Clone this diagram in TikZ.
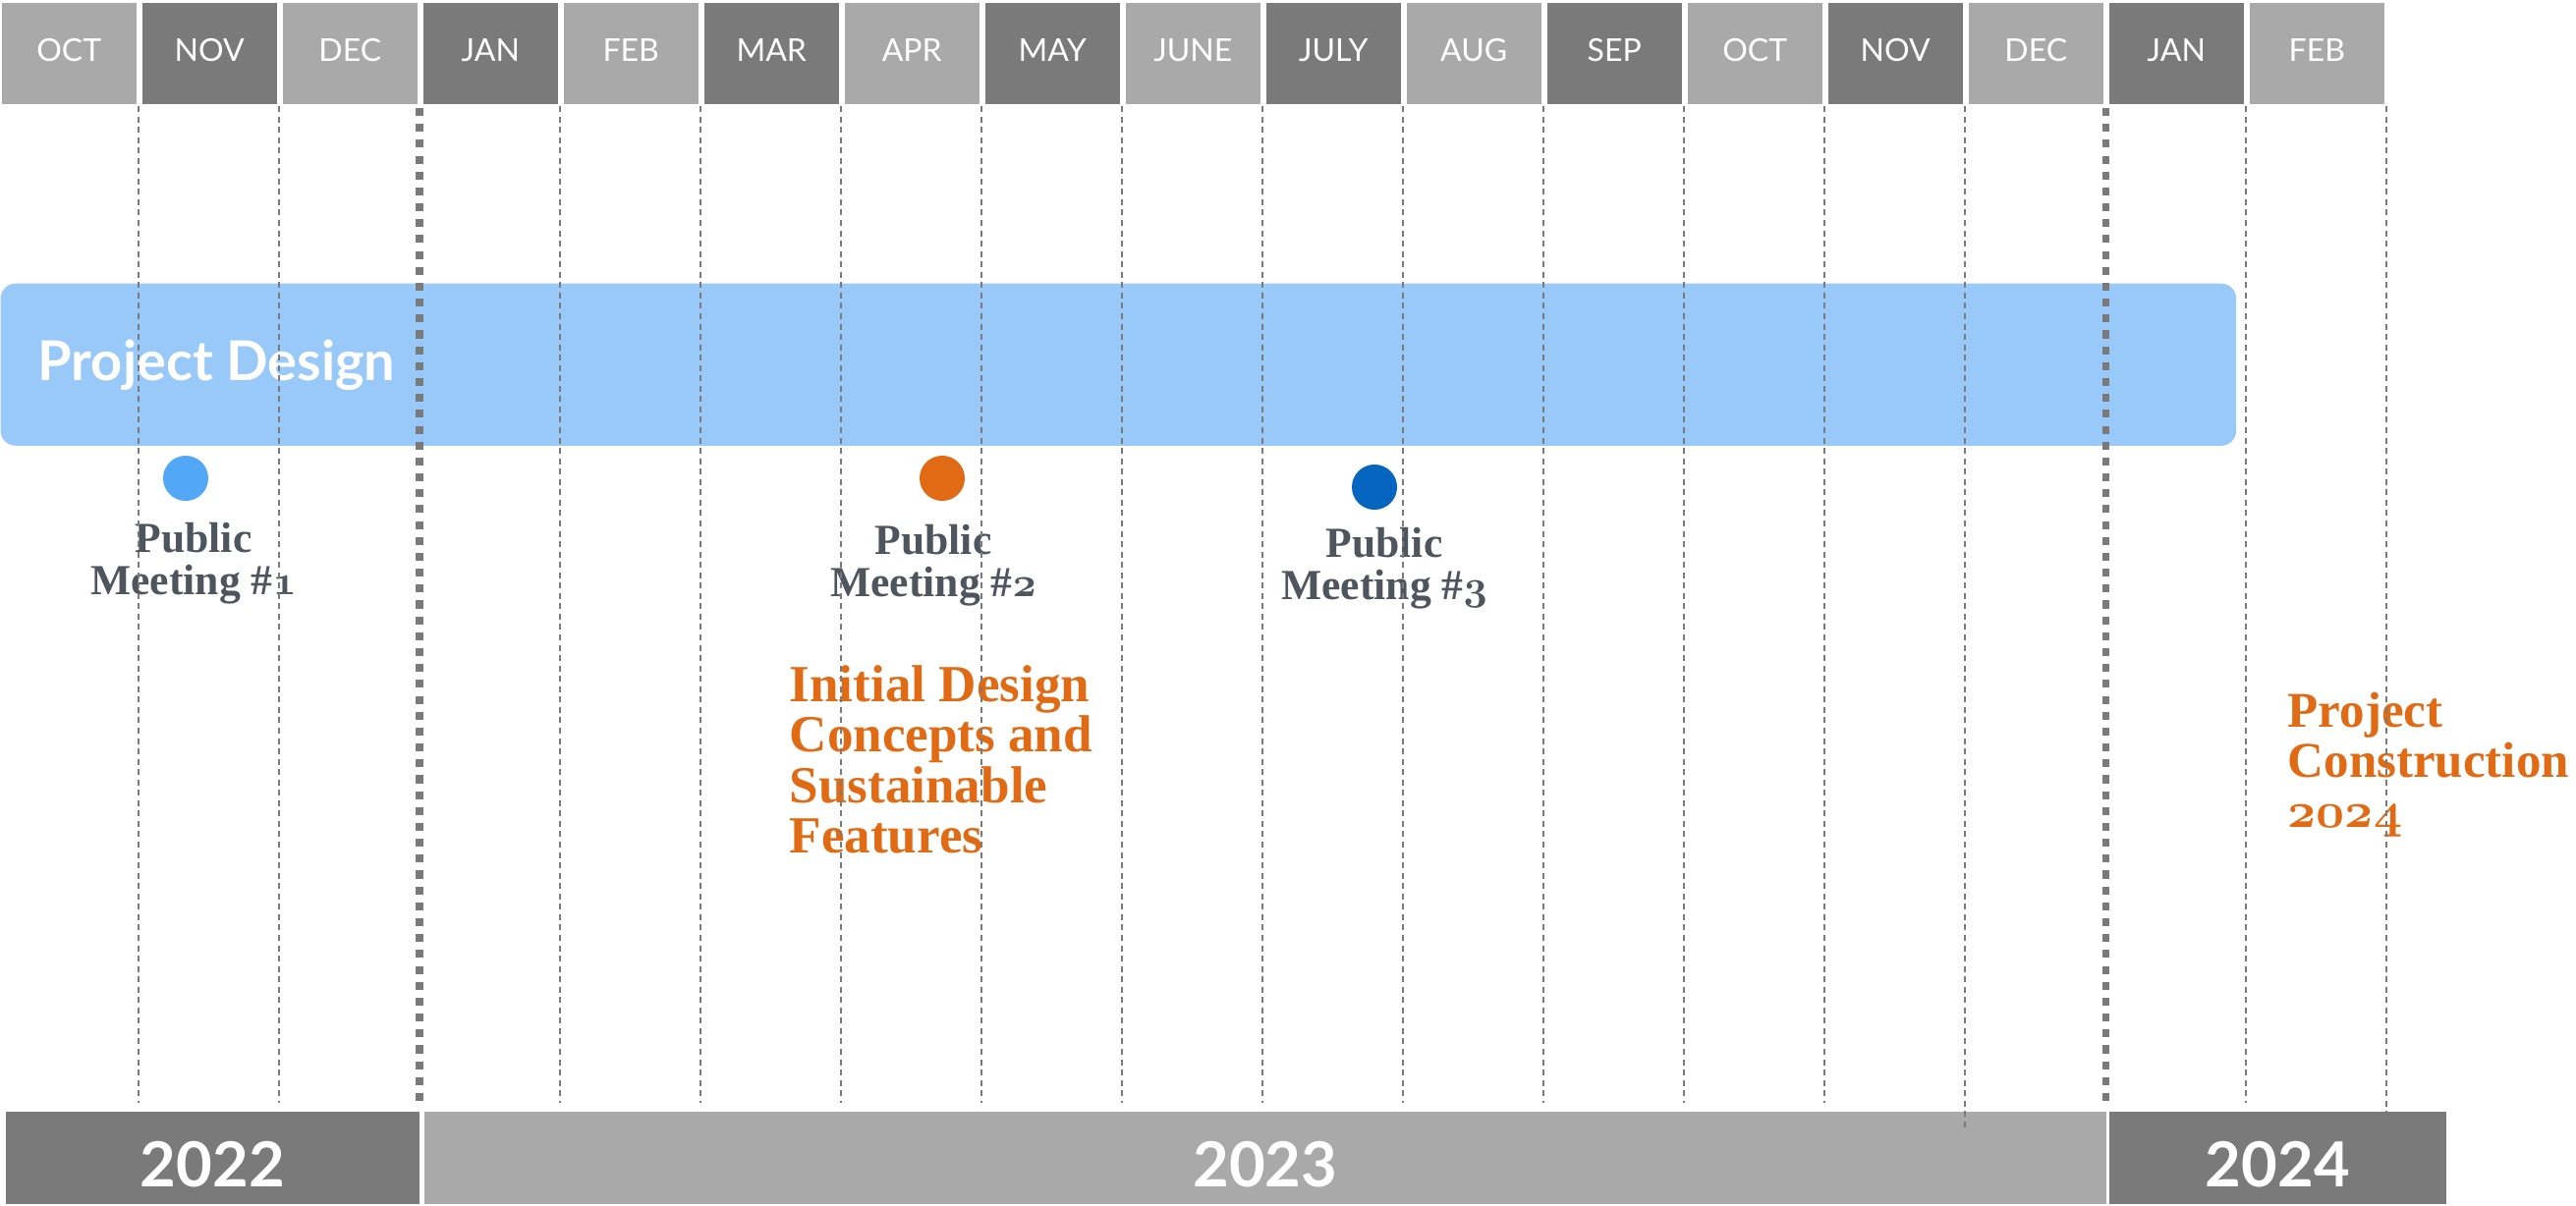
\documentclass[tikz,border=0pt]{standalone}
\usepackage{fontspec}
\setmainfont{Liberation Serif}
\newfontfamily\labelfont{Lato}
\usepackage{tikz}
\definecolor{monthlight}{HTML}{A9A9A9}
\definecolor{monthdark}{HTML}{7A7A7A}
\definecolor{designblue}{HTML}{99C9F9}
\definecolor{dotsky}{HTML}{52A8F7}
\definecolor{dotnavy}{HTML}{0565BF}
\definecolor{accent}{HTML}{E06B14}
\definecolor{meetgray}{HTML}{4F555D}
\definecolor{gridgray}{HTML}{7A7A7A}
% old style figures
\newcommand{\osnum}[1]{{\usefont{OML}{cmm}{b}{it}#1}}

\tikzset{
  monthbox/.style={anchor=north west, minimum width=1.37cm, minimum height=1.03cm,
    inner sep=0pt, text=white, font=\labelfont\fontsize{9.1}{10}\selectfont,
    text height=6.6pt, text depth=1.8pt},
  yearbar/.style={anchor=north west, minimum height=0.94cm, inner sep=0pt,
    text=white, font=\labelfont\bfseries\fontsize{18}{20}\selectfont,
    text height=17pt, text depth=0pt},
  meetdot/.style={circle, minimum size=0.46cm, inner sep=0pt},
  meetlabel/.style={anchor=north, align=center, inner sep=0pt, text=meetgray,
    font=\bfseries\fontsize{12.4}{12}\selectfont},
  notelabel/.style={anchor=north west, align=left, inner sep=0pt, text=accent,
    font=\bfseries\fontsize{15.1}{14.6}\selectfont},
  gridline/.style={draw=gridgray, line width=0.75pt, dash pattern=on 1.7pt off 1.3pt},
  yearline/.style={draw=gridgray, line width=2pt, dash pattern=on 2.3pt off 2.3pt}
}

\begin{document}
\begin{tikzpicture}[x=0.01cm, y=-0.01cm]
  \useasboundingbox (0,0) rectangle (2622,1228);

  % months along the top
  \foreach \m [count=\i from 0] in {OCT,NOV,DEC,JAN,FEB,MAR,APR,MAY,JUNE,JULY,AUG,SEP,OCT,NOV,DEC,JAN,FEB}{
    \ifodd\i \def\shade{monthdark}\else \def\shade{monthlight}\fi
    \node[monthbox, fill=\shade] (month\i) at ({143*\i+1},2) {\m};
  }

  \node[anchor=north west, minimum width=22.74cm, minimum height=1.65cm, inner sep=0pt,
        fill=designblue, rounded corners=0.15cm] (design) at (0,288) {};
  \node[anchor=base west, inner sep=0pt, text=white,
        font=\labelfont\bfseries\fontsize{15.9}{18}\selectfont] (designlabel) at (38,388) {Project Design};

  % public meetings
  \node[meetdot, fill=dotsky] (dotone) at (189,487) {};
  \node[meetlabel] (meetone) at (197,532) {Public\\Meeting \#\osnum{1}};
  \node[meetdot, fill=accent] (dottwo) at (959,487) {};
  \node[meetlabel] (meettwo) at (950,534) {Public\\Meeting \#\osnum{2}};
  \node[meetdot, fill=dotnavy] (dotthree) at (1399,496) {};
  \node[meetlabel] (meetthree) at (1409,537) {Public\\Meeting \#\osnum{3}};

  \node[notelabel] (concepts) at (803,677) {Initial Design\\Concepts and\\Sustainable\\Features};
  \node[notelabel, font=\bfseries\fontsize{14.5}{14.6}\selectfont] (construction) at (2328,704)
    {Project\\Construction\\\osnum{2024}};

  % years
  \node[yearbar, fill=monthdark, minimum width=4.21cm] (yeartwo) at (5,1131) {2022};
  \node[yearbar, fill=monthlight, minimum width=17.11cm] (yearthree) at (431,1131) {2023};
  \node[yearbar, fill=monthdark, minimum width=3.43cm] (yearfour) at (2146,1131) {2024};

  % month dividers
  \foreach \j in {0,1,3,4,5,6,7,8,9,10,11,12,15}
    \draw[gridline] ({143*\j+141},108) -- ++(0,1015);
  \draw[gridline] ({143*13+141},108) -- ++(0,1042);
  \draw[gridline] ({143*16+141},108) -- ++(0,1024);
  \foreach \j in {2,14}
    \draw[yearline] ({143*\j+141},110) -- ++(0,1015);
\end{tikzpicture}
\end{document}
